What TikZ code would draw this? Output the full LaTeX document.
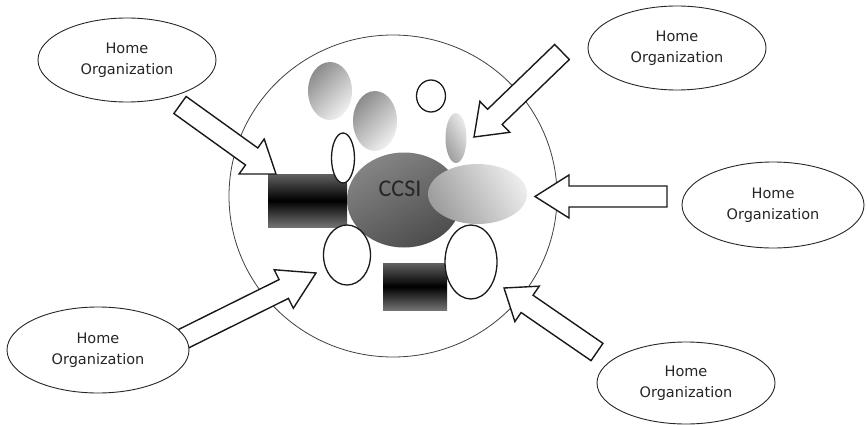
\documentclass[tikz,border=0pt]{standalone}
\usepackage{fontspec}
\setmainfont{DejaVu Sans}
\newfontfamily\ccsifont{Carlito}
\usetikzlibrary{shapes.geometric,calc}
\tikzset{
  homeorg/.style={ellipse, draw=black!85, line width=0.9pt, fill=white, inner sep=0pt,
    align=center, text=black!85, font=\fontsize{14.5}{21}\selectfont},
  whiteell/.style={draw=black!90, line width=1.3pt, fill=white},
  grayell/.style={top color=black!45, bottom color=black!6, shading angle=45},
  lightell/.style={top color=black!8, bottom color=black!38, shading angle=-60},
  darkrect/.style={top color=black!62, bottom color=black!55, middle color=black},
  blockarr/.style={draw=black!90, line width=1.4pt, fill=white, line join=miter},
}
\newcommand\blockarrow[2]{%
  \coordinate (#1-base) at ($(#1-tip)!#2!(#1-tail)$);
  \draw[blockarr] ($(#1-tail)!10.5pt!90:(#1-tip)$) -- ($(#1-base)!10.5pt!90:(#1-tip)$)
    -- ($(#1-base)!21.5pt!90:(#1-tip)$) -- (#1-tip) -- ($(#1-base)!21.5pt!-90:(#1-tip)$)
    -- ($(#1-base)!10.5pt!-90:(#1-tip)$) -- ($(#1-tail)!10.5pt!-90:(#1-tip)$) -- cycle;}
\begin{document}
\begin{tikzpicture}[x=1pt,y=1pt]
\useasboundingbox (0,0) rectangle (867,-425);
% big circle
\draw[black!75, line width=0.8pt] (393,-196) ellipse [x radius=164, y radius=161];
% gray ellipses at top
\shade[grayell] (330,-91) ellipse [x radius=22, y radius=29];
\shade[grayell] (375,-121) ellipse [x radius=22, y radius=30];
\draw[whiteell] (431,-96) ellipse [x radius=14.5, y radius=16];
% left dark rectangle
\shade[darkrect] (268,-174) rectangle (347,-227);
% CCSI ellipse
\shade[top color=black!48, bottom color=black!70, shading angle=30] (404,-200) ellipse [x radius=57, y radius=47.5];
% white ellipses
\draw[whiteell] (343,-158) ellipse [x radius=11.5, y radius=25];
\draw[whiteell] (347,-255) ellipse [x radius=23.5, y radius=30];
% bottom rectangle
\shade[darkrect] (383,-263) rectangle (447,-310);
\draw[whiteell] (471,-262) ellipse [x radius=26, y radius=37];
% light ellipses
\shade[lightell] (477.5,-194) ellipse [x radius=49.5, y radius=30];
\shade[lightell] (456,-138) ellipse [x radius=10.5, y radius=25];
\node[text=black!85, font=\ccsifont\fontsize{24}{28}\selectfont] (ccsi) at (400,-189) {CCSI};
% arrows
\coordinate (a1-tail) at (180,-105); \coordinate (a1-tip) at (276,-174);
\coordinate (a2-tail) at (562,-52);  \coordinate (a2-tip) at (474,-137);
\coordinate (a3-tail) at (667,-196.5); \coordinate (a3-tip) at (535,-196.5);
\coordinate (a4-tail) at (183,-339); \coordinate (a4-tip) at (316,-273);
\coordinate (a5-tail) at (597,-352); \coordinate (a5-tip) at (504,-288);
\blockarrow{a1}{30pt}
\blockarrow{a2}{29pt}
\blockarrow{a3}{34pt}
\blockarrow{a4}{36pt}
\blockarrow{a5}{28pt}
% home organizations
\node[homeorg, minimum width=178, minimum height=84] (ho1) at (127,-60) {Home\\Organization};
\node[homeorg, minimum width=178, minimum height=84] (ho2) at (677,-48) {Home\\Organization};
\node[homeorg, minimum width=182, minimum height=86] (ho3) at (773,-205) {Home\\Organization};
\node[homeorg, minimum width=182, minimum height=86] (ho4) at (98,-350) {Home\\Organization};
\node[homeorg, minimum width=178, minimum height=82] (ho5) at (686,-383) {Home\\Organization};
\end{tikzpicture}
\end{document}
